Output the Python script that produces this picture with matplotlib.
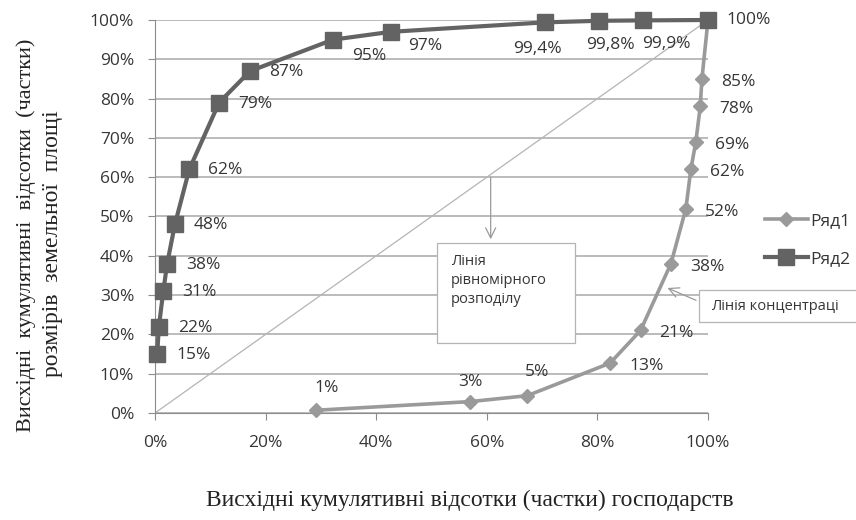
import matplotlib
matplotlib.use('Agg')
import matplotlib.pyplot as plt
from matplotlib.patches import Rectangle
from matplotlib.ticker import PercentFormatter, MultipleLocator

plt.rcParams['font.family'] = ['Open Sans', 'DejaVu Sans']

# Ряд1 - лінія концентрації
r1_x = [0.291, 0.570, 0.673, 0.823, 0.878, 0.933, 0.960, 0.969, 0.978, 0.986, 0.989, 1.0]
r1_y = [0.007, 0.029, 0.044, 0.127, 0.21, 0.38, 0.52, 0.62, 0.69, 0.78, 0.85, 1.0]
r1_labels = ['1%', '3%', '5%', '13%', '21%', '38%', '52%', '62%', '69%', '78%', '85%', '']

# Ряд2
r2_x = [0.004, 0.007, 0.015, 0.022, 0.036, 0.062, 0.116, 0.172, 0.322, 0.427, 0.705, 0.803, 0.882, 1.0]
r2_y = [0.15, 0.22, 0.31, 0.38, 0.48, 0.62, 0.79, 0.87, 0.95, 0.97, 0.994, 0.998, 0.999, 1.0]
r2_labels = ['15%', '22%', '31%', '38%', '48%', '62%', '79%', '87%', '95%', '97%',
             '99,4%', '99,8%', '99,9%', '100%']

# label offsets in pixels (dx, dy, ha)
r1_off = [(11, 22, 'center'), (0, 20, 'center'), (10, 24, 'center')] + [(19, -3, 'left')] * 9
r2_off = [(19, -1, 'left')] * 8 + [(36, -16, 'center'), (34, -14, 'center'), (-7, -27, 'center'),
                                   (11, -24, 'center'), (24, -24, 'center'), (18, 0, 'left')]

c1 = '#9a9a9a'
c2 = '#636363'
txt = '#363636'
fs = 12.5

fig = plt.figure(figsize=(8.56, 5.2), dpi=100)
ax = fig.add_axes([155 / 856, 1 - 413 / 520, 553 / 856, 393 / 520])

ax.plot([0, 1], [0, 1], color='#b4b4b4', lw=0.9, zorder=2)
ax.plot(r1_x, r1_y, color=c1, lw=2.6, marker='D', ms=7, label='Ряд1', zorder=4, clip_on=False)
ax.plot(r2_x, r2_y, color=c2, lw=3, marker='s', ms=11, label='Ряд2', zorder=5, clip_on=False)

for x, y, s, (dx, dy, ha) in zip(r1_x, r1_y, r1_labels, r1_off):
    ax.annotate(s, (x, y), xytext=(dx, dy), textcoords='offset pixels', ha=ha, va='center',
                fontsize=fs, color=txt, zorder=6, annotation_clip=False)
for x, y, s, (dx, dy, ha) in zip(r2_x, r2_y, r2_labels, r2_off):
    ax.annotate(s, (x, y), xytext=(dx, dy), textcoords='offset pixels', ha=ha, va='center',
                fontsize=fs, color=txt, zorder=6, annotation_clip=False)

ax.set_xlim(0, 1)
ax.set_ylim(0, 1)
ax.xaxis.set_major_locator(MultipleLocator(0.2))
ax.yaxis.set_major_locator(MultipleLocator(0.1))
ax.xaxis.set_major_formatter(PercentFormatter(1.0, decimals=0))
ax.yaxis.set_major_formatter(PercentFormatter(1.0, decimals=0))
ax.grid(axis='y', color='#a8a8a8', lw=1.1, zorder=1)
ax.set_axisbelow(True)
for sp in ['top', 'right']:
    ax.spines[sp].set_visible(False)
for sp in ['left', 'bottom']:
    ax.spines[sp].set_color('#8c8c8c')
ax.tick_params(axis='both', colors='#8c8c8c', labelcolor=txt, labelsize=fs, length=5)
ax.tick_params(axis='x', pad=11)
ax.tick_params(axis='y', pad=10)

# annotation boxes
ax.add_patch(Rectangle((0.51, 0.178), 0.25, 0.255, facecolor='white', edgecolor='#b4b4b4',
                       lw=0.9, zorder=7))
ax.text(0.535, 0.405, 'Лінія\nрівномірного\nрозподілу', fontsize=10.5, color=txt,
        va='top', ha='left', linespacing=1.35, zorder=8)
ax.annotate('', xy=(0.607, 0.435), xytext=(0.607, 0.607),
            arrowprops=dict(arrowstyle='->', color='#9a9a9a', lw=0.9, mutation_scale=18), zorder=8)

ax.add_patch(Rectangle((0.983, 0.231), 0.29, 0.082, facecolor='white', edgecolor='#b4b4b4',
                       lw=0.9, zorder=7, clip_on=False))
ax.text(1.006, 0.272, 'Лінія концентраці', fontsize=10.5, color=txt, va='center', ha='left',
        zorder=8, clip_on=False)
ax.annotate('', xy=(0.922, 0.321), xytext=(0.983, 0.284),
            arrowprops=dict(arrowstyle='->', color='#9a9a9a', lw=0.9, mutation_scale=18),
            zorder=8, annotation_clip=False)

ax.legend(loc='center left', bbox_to_anchor=(756 / 856, 1 - 240 / 520), bbox_transform=fig.transFigure,
          frameon=False, fontsize=fs, handlelength=2.5, handletextpad=0.1, labelspacing=1.25,
          borderpad=0, labelcolor=txt)

serif = ['Liberation Serif', 'DejaVu Serif']
fig.text(470 / 856, 1 - 500 / 520, 'Висхідні кумулятивні відсотки (частки) господарств',
         family=serif, fontsize=17, color='#222222', ha='center', va='center')
fig.text(26 / 856, 1 - 235 / 520, 'Висхідні  кумулятивні  відсотки  (частки)',
         family=serif, fontsize=16, color='#222222', ha='center', va='center', rotation=90)
fig.text(53 / 856, 1 - 244 / 520, 'розмірів  земельної  площі',
         family=serif, fontsize=17, color='#222222', ha='center', va='center', rotation=90)

fig.savefig('out.png', dpi=100)
